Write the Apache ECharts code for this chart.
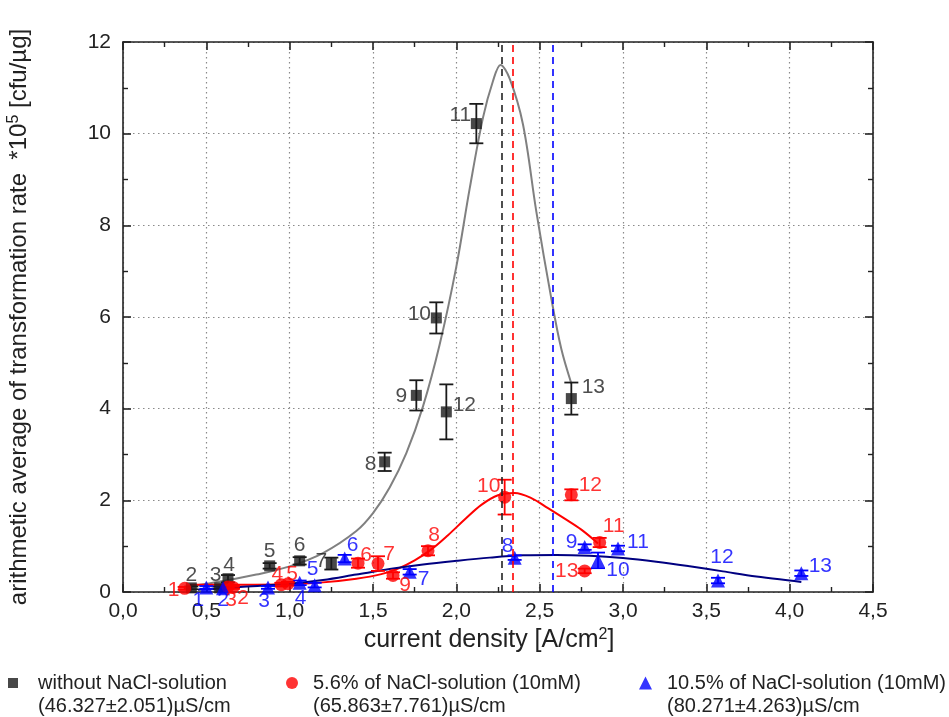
<!DOCTYPE html>
<html>
<head>
<meta charset="utf-8">
<script src="https://cdn.jsdelivr.net/npm/echarts@6.0.0/dist/echarts.min.js"></script>
<style>
html,body{margin:0;padding:0;background:#fff;}
#chart{width:949px;height:717px;}
</style>
</head>
<body>
<div id="chart"></div>
<script>
// ---------- data ----------
const xTickLabels = ['0,0','0,5','1,0','1,5','2,0','2,5','3,0','3,5','4,0','4,5'];
const yTickLabels = ['0','2','4','6','8','10','12'];

const seriesNames = [
  'without NaCl-solution',
  '5.6% of NaCl-solution (10mM)',
  '10.5% of NaCl-solution (10mM)'
];
const seriesSubtitles = [
  '(46.327±2.051)µS/cm',
  '(65.863±7.761)µS/cm',
  '(80.271±4.263)µS/cm'
];

// without NaCl
const blackIds = [2, 3, 4, 5, 6, 7, 8, 9, 10, 11, 12, 13];
const blackX   = [0.41, 0.58, 0.63, 0.88, 1.06, 1.25, 1.57, 1.76, 1.88, 2.12, 1.94, 2.69];
const blackY   = [0.09, 0.09, 0.29, 0.57, 0.68, 0.62, 2.84, 4.29, 5.98, 10.22, 3.93, 4.22];
const blackErr = [0.03, 0.03, 0.08, 0.06, 0.08, 0.13, 0.20, 0.33, 0.34, 0.43, 0.60, 0.35];

// 5.6 % NaCl
const redIds = [1, 2, 3, 4, 5, 6, 7, 8, 9, 10, 11, 12, 13];
const redX   = [0.37, 0.66, 0.63, 0.95, 0.99, 1.41, 1.53, 1.83, 1.62, 2.29, 2.86, 2.69, 2.77];
const redY   = [0.08, 0.10, 0.11, 0.16, 0.18, 0.63, 0.62, 0.90, 0.36, 2.07, 1.08, 2.12, 0.46];
const redErr = [0.03, 0.03, 0.03, 0.04, 0.04, 0.10, 0.16, 0.10, 0.07, 0.38, 0.10, 0.12, 0.05];

// 10.5 % NaCl
const blueIds = [1, 2, 3, 4, 5, 6, 7, 8, 9, 10, 11, 12, 13];
const blueX   = [0.50, 0.60, 0.87, 1.06, 1.15, 1.33, 1.72, 2.35, 2.77, 2.85, 2.97, 3.57, 4.07];
const blueY   = [0.10, 0.08, 0.10, 0.20, 0.15, 0.73, 0.44, 0.75, 0.98, 0.69, 0.95, 0.25, 0.41];
const blueErr = [0.03, 0.03, 0.03, 0.05, 0.05, 0.08, 0.06, 0.05, 0.06, 0.17, 0.06, 0.06, 0.06];

// fitted curves
const grayCurveX = [0.40, 0.60, 0.80, 1.00, 1.20, 1.40, 1.50, 1.60, 1.70, 1.80, 1.90, 2.00, 2.08, 2.16, 2.22, 2.265, 2.32, 2.40, 2.48, 2.57, 2.63, 2.69];
const grayCurveY = [0.12, 0.24, 0.38, 0.56, 0.85, 1.33, 1.72, 2.28, 3.03, 4.05, 5.40, 7.10, 8.80, 10.35, 11.15, 11.50, 11.20, 10.20, 8.30, 6.40, 5.30, 4.55];

const redCurveX = [0.40, 0.70, 1.00, 1.20, 1.40, 1.55, 1.65, 1.75, 1.85, 1.95, 2.05, 2.15, 2.25, 2.35, 2.45, 2.55, 2.65, 2.75, 2.85];
const redCurveY = [0.16, 0.16, 0.17, 0.21, 0.29, 0.39, 0.51, 0.69, 0.93, 1.24, 1.58, 1.90, 2.11, 2.16, 2.05, 1.83, 1.60, 1.36, 1.06];

const blueCurveX = [0.45, 0.70, 1.00, 1.20, 1.40, 1.60, 1.80, 2.00, 2.20, 2.40, 2.60, 2.80, 3.00, 3.20, 3.40, 3.60, 3.80, 4.00, 4.07];
const blueCurveY = [0.05, 0.11, 0.18, 0.26, 0.38, 0.50, 0.60, 0.68, 0.75, 0.80, 0.81, 0.79, 0.74, 0.66, 0.56, 0.45, 0.34, 0.25, 0.22];

// peak centres (dashed vertical lines)
const peakCenters = [2.27, 2.34, 2.58];

// ---------- layout / style (kept apart from the data) ----------
const blackLabelOffset = [[0,-13],[-4,-13],[1,-14],[0,-15],[0,-16],[-10,-2],[-14,2],[-15,1],[-17,-4],[-16,-8],[18,-7],[22,-11]];
const redLabelOffset   = [[-11,2],[10,11],[3,13],[-4,-10],[4,-10],[8,-8],[11,-9],[6,-16],[12,10],[-16,-11],[14,-16],[19,-10],[-18,0]];
const blueLabelOffset  = [[-8,13],[0,12],[-4,14],[1,15],[-2,-16],[8,-13],[14,7],[-7,-11],[-13,-5],[20,10],[20,-6],[4,-23],[19,-7]];
const legendLeft = [3, 281, 634];
const legendIconSize = [10, 12, 13];
const legendTextPad = [15, 10, 10];
const LEGEND_LINE1_Y = 683, LEGEND_LINE2_Y = 706;

const FONT = "'Liberation Sans', Arial, Helvetica, sans-serif";
const COL_BLACK = '#1a1a1a', COL_RED = '#ff0000', COL_BLUE = '#0000ff';
const COL_GRAY = '#808080', COL_NAVY = '#000080';

function zip(xs, ys) { return xs.map((x, i) => [x, ys[i]]); }

function pointData(xs, ys, ids, offs) {
  return xs.map((x, i) => ({
    value: [x, ys[i], ids[i]],
    label: { offset: offs[i] }
  }));
}
function errData(xs, ys, es) {
  return xs.map((x, i) => [x, ys[i] - es[i], ys[i] + es[i]]);
}
function errRender(color) {
  return function (params, api) {
    const x = api.value(0), lo = api.value(1), hi = api.value(2);
    const pH = api.coord([x, hi]), pL = api.coord([x, lo]);
    const w = 7;
    const st = { stroke: color, lineWidth: 1.8 };
    return {
      type: 'group',
      children: [
        { type: 'line', shape: { x1: pH[0], y1: pH[1], x2: pL[0], y2: pL[1] }, style: st },
        { type: 'line', shape: { x1: pH[0] - w, y1: pH[1], x2: pH[0] + w, y2: pH[1] }, style: st },
        { type: 'line', shape: { x1: pL[0] - w, y1: pL[1], x2: pL[0] + w, y2: pL[1] }, style: st }
      ]
    };
  };
}

const chart = echarts.init(document.getElementById('chart'), null, { renderer: 'canvas' });

const gridLine = { show: true, lineStyle: { color: '#8a8a8a', width: 1.2, type: [1.5, 3.5] } };
const axisLine = { show: true, onZero: false, lineStyle: { color: '#222', width: 1.6 } };
const tick = { show: true, inside: true, length: 8, lineStyle: { color: '#222', width: 1.6 } };
const minor = { show: true, splitNumber: 2, length: 5, lineStyle: { color: '#222', width: 1.4 } };
const supRich = { sup: { fontSize: 16, verticalAlign: 'top', color: '#222', fontFamily: FONT, padding: [0, 0, 11, 0] } };

const option = {
  backgroundColor: '#fff',
  animation: false,
  textStyle: { fontFamily: FONT },
  grid: { left: 123, right: 76, top: 42, bottom: 125, containLabel: false, outerBoundsMode: 'none' },
  xAxis: [
    {
      type: 'value', min: 0, max: 4.5, interval: 0.5, position: 'bottom',
      axisLine: axisLine, axisTick: tick, minorTick: minor,
      splitLine: gridLine,
      axisLabel: {
        fontSize: 21, color: '#222', fontFamily: FONT, margin: 9,
        formatter: v => xTickLabels[Math.round(v / 0.5)]
      },
      name: 'current density [A/cm{sup|2}]',
      nameLocation: 'middle', nameGap: 33,
      nameTextStyle: { fontSize: 25, color: '#222', fontFamily: FONT, rich: supRich, padding: [0, 18, 0, 0] }
    },
    {
      type: 'value', min: 0, max: 4.5, interval: 0.5, position: 'top',
      axisLine: axisLine, axisTick: tick, minorTick: minor,
      splitLine: { show: false }, axisLabel: { show: false }
    }
  ],
  yAxis: [
    {
      type: 'value', min: 0, max: 12, interval: 2, position: 'left',
      axisLine: axisLine, axisTick: tick, minorTick: minor,
      splitLine: gridLine,
      axisLabel: {
        fontSize: 21, color: '#222', fontFamily: FONT, margin: 12,
        formatter: v => yTickLabels[Math.round(v / 2)]
      },
      name: 'arithmetic average of transformation rate  *10{sup|5} [cfu/µg]',
      nameLocation: 'middle', nameGap: 90,
      nameTextStyle: { fontSize: 24, color: '#222', fontFamily: FONT, rich: supRich }
    },
    {
      type: 'value', min: 0, max: 12, interval: 2, position: 'right',
      axisLine: axisLine, axisTick: tick, minorTick: minor,
      splitLine: { show: false }, axisLabel: { show: false }
    }
  ],
  legend: ['rect', 'circle', 'triangle'].map((icon, i) => ({
    data: [{ name: seriesNames[i], icon: icon }],
    left: legendLeft[i], top: LEGEND_LINE1_Y - 16.5, orient: 'horizontal',
    itemWidth: legendIconSize[i], itemHeight: legendIconSize[i],
    selectedMode: false,
    textStyle: { fontSize: 20, lineHeight: 23, color: '#222', fontFamily: FONT, padding: [0, 0, 0, legendTextPad[i]] }
  })),
  graphic: seriesSubtitles.map((t, i) => ({
    type: 'text',
    left: legendLeft[i] + 5 + legendIconSize[i] + 5 + legendTextPad[i],
    top: LEGEND_LINE2_Y - 10,
    style: { text: t, fontSize: 20, fill: '#222', fontFamily: FONT }
  })),
  series: [
    // fitted curves
    { type: 'line', data: zip(grayCurveX, grayCurveY), smooth: 0.35, showSymbol: false, silent: true,
      lineStyle: { color: COL_GRAY, width: 2 }, z: 2,
      markLine: {
        silent: true, symbol: 'none', label: { show: false },
        data: [
          { xAxis: peakCenters[0], lineStyle: { color: '#222', type: [7, 5], width: 1.6 } },
          { xAxis: peakCenters[1], lineStyle: { color: COL_RED, type: [7, 5], width: 1.6 } },
          { xAxis: peakCenters[2], lineStyle: { color: COL_BLUE, type: [7, 5], width: 1.6 } }
        ]
      }
    },
    { type: 'line', data: zip(redCurveX, redCurveY), smooth: 0.35, showSymbol: false, silent: true,
      lineStyle: { color: COL_RED, width: 2 }, z: 2 },
    { type: 'line', data: zip(blueCurveX, blueCurveY), smooth: 0.35, showSymbol: false, silent: true,
      lineStyle: { color: COL_NAVY, width: 2 }, z: 2 },

    // error bars
    { type: 'custom', renderItem: errRender(COL_BLACK), data: errData(blackX, blackY, blackErr),
      encode: { x: 0, y: [1, 2] }, z: 3, silent: true },
    { type: 'custom', renderItem: errRender(COL_RED), data: errData(redX, redY, redErr),
      encode: { x: 0, y: [1, 2] }, z: 3, silent: true },
    { type: 'custom', renderItem: errRender(COL_BLUE), data: errData(blueX, blueY, blueErr),
      encode: { x: 0, y: [1, 2] }, z: 3, silent: true },

    // points
    { name: seriesNames[0], type: 'scatter', symbol: 'rect', symbolSize: 11,
      itemStyle: { color: COL_BLACK }, z: 4,
      data: pointData(blackX, blackY, blackIds, blackLabelOffset),
      label: { show: true, position: 'inside', formatter: p => p.value[2],
               color: '#222', fontSize: 21, fontFamily: FONT } },
    { name: seriesNames[1], type: 'scatter', symbol: 'circle', symbolSize: 13,
      itemStyle: { color: COL_RED }, z: 4,
      data: pointData(redX, redY, redIds, redLabelOffset),
      label: { show: true, position: 'inside', formatter: p => p.value[2],
               color: COL_RED, fontSize: 21, fontFamily: FONT } },
    { name: seriesNames[2], type: 'scatter', symbol: 'triangle', symbolSize: 14,
      itemStyle: { color: COL_BLUE }, z: 4,
      data: pointData(blueX, blueY, blueIds, blueLabelOffset),
      label: { show: true, position: 'inside', formatter: p => p.value[2],
               color: COL_BLUE, fontSize: 21, fontFamily: FONT } }
  ]
};
chart.setOption(option);
</script>
</body>
</html>
